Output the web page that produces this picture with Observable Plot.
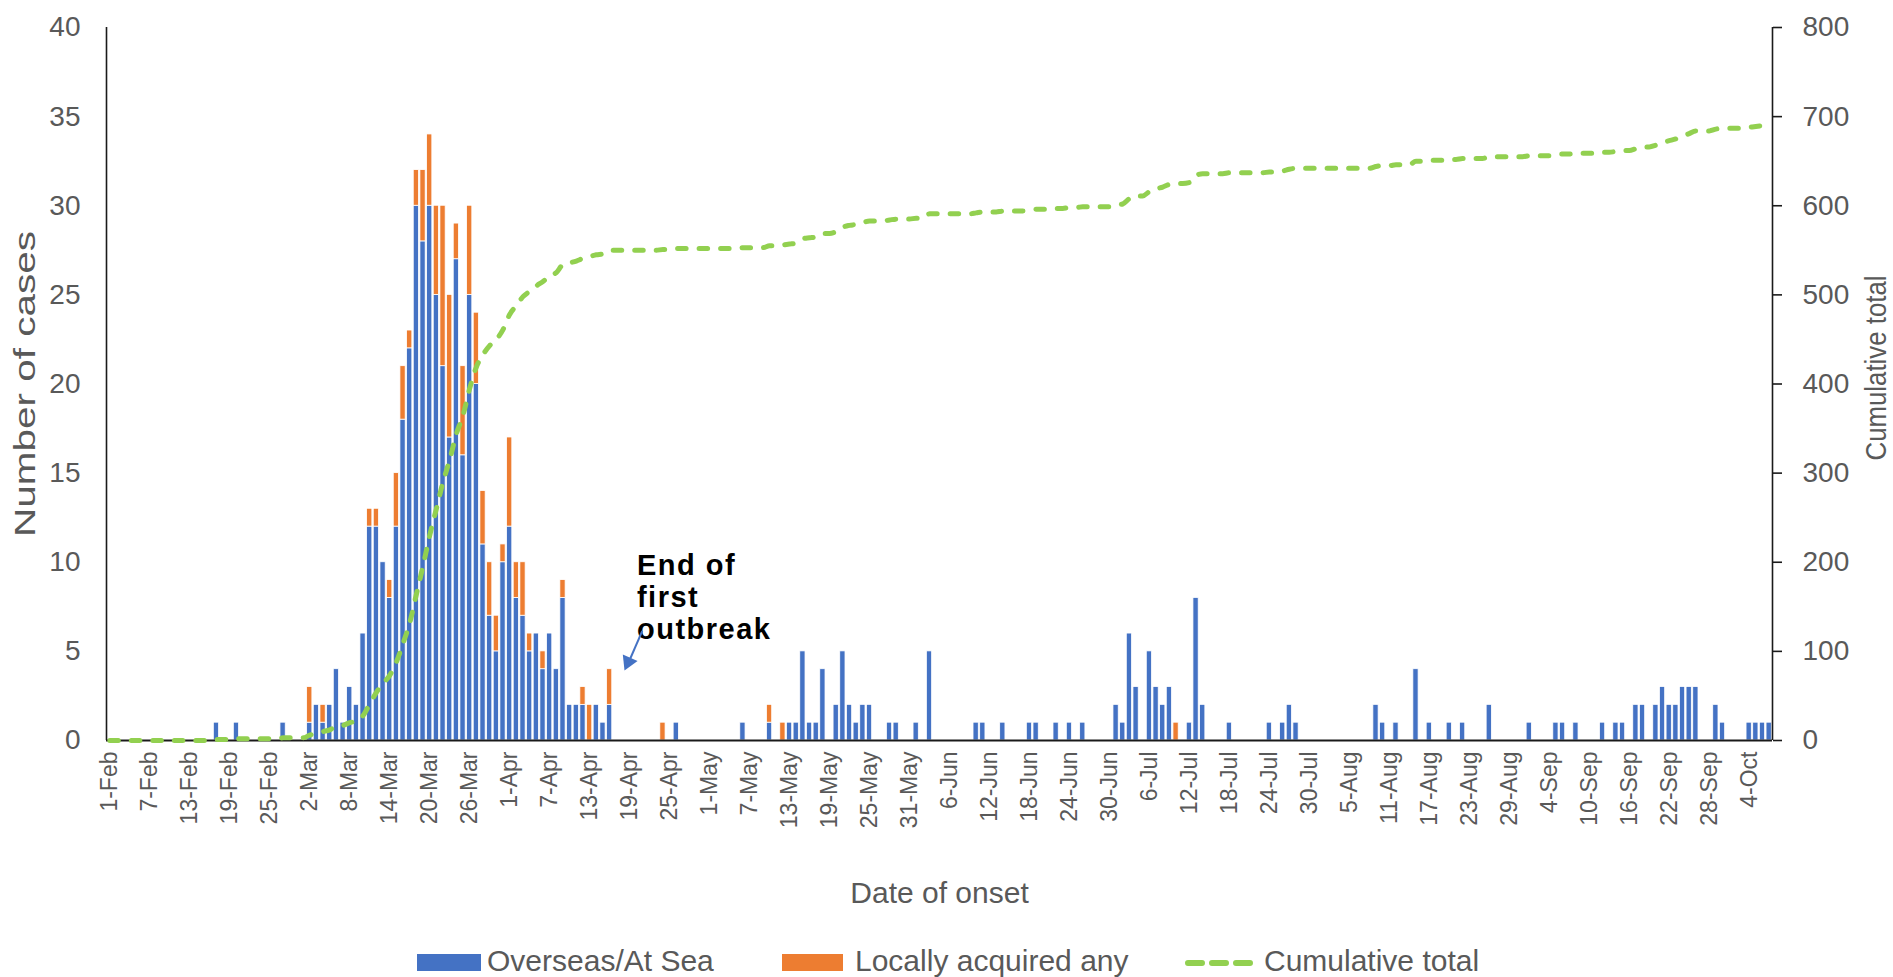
<!DOCTYPE html>
<html><head><meta charset="utf-8">
<script src="https://cdn.jsdelivr.net/npm/d3@7"></script>
<script src="https://cdn.jsdelivr.net/npm/@observablehq/plot@0.6"></script>
<style>
body{margin:0;background:#fff;}
#chart{width:1893px;height:977px;position:relative;font-family:"Liberation Sans",Arial,sans-serif;background:#fff;}
#legend{position:relative;width:1893px;height:37px;font-size:30px;color:#595959;}
#legend .sw{position:absolute;top:14px;height:17px;}
#legend .tx{position:absolute;top:3px;line-height:36px;white-space:nowrap;}
</style></head><body><div id="chart"></div>
<script>
// Daily cases by date of onset, 1-Feb to 7-Oct (2020)
const overseasFeb = [0,0,0,0,0,0,0,0,0,0, 0,0,0,0,0,0,1,0,0,1, 0,0,0,0,0,0,1,0,0];
const overseasMar = [0,1,2,1,2,4,1,3,2,6, 12,12,10,8,12,18,22,30,28,30, 25,21,17,27,16,25,20,11,7,5,10];
const overseasApr = [12,8,7,5,6,4,6,4,8,2, 2,2,0,2,1,2,0,0,0,0, 0,0,0,0,0,1,0,0,0,0];
const overseasMay = [0,0,0,0,0,1,0,0,0,1, 0,0,1,1,5,1,1,4,0,2, 5,2,1,2,2,0,0,1,1,0,0];
const overseasJun = [1,0,5,0,0,0,0,0,0,1, 1,0,0,1,0,0,0,1,1,0, 0,1,0,1,0,1,0,0,0,0];
const overseasJul = [2,1,6,3,0,5,3,2,3,0, 0,1,8,2,0,0,0,1,0,0, 0,0,0,1,0,1,2,1,0,0,0];
const overseasAug = [0,0,0,0,0,0,0,0,2,1, 0,1,0,0,4,0,1,0,0,1, 0,1,0,0,0,2,0,0,0,0,0];
const overseasSep = [1,0,0,0,1,1,0,1,0,0, 0,1,0,1,1,0,2,2,0,2, 3,2,2,3,3,3,0,0,2,1];
const overseasOct = [0,0,0,1,1,1,1];

const localFeb = [0,0,0,0,0,0,0,0,0,0, 0,0,0,0,0,0,0,0,0,0, 0,0,0,0,0,0,0,0,0];
const localMar = [0,2,0,1,0,0,0,0,0,0, 1,1,0,1,3,3,1,2,4,4, 5,9,8,2,5,5,4,3,3,2,1];
const localApr = [5,2,3,1,0,1,0,0,1,0, 0,1,2,0,0,2,0,0,0,0, 0,0,0,1,0,0,0,0,0,0];
const localMay = [0,0,0,0,0,0,0,0,0,1, 0,1,0,0,0,0,0,0,0,0, 0,0,0,0,0,0,0,0,0,0,0];
const localJun = [0,0,0,0,0,0,0,0,0,0, 0,0,0,0,0,0,0,0,0,0, 0,0,0,0,0,0,0,0,0,0];
const localJul = [0,0,0,0,0,0,0,0,0,1, 0,0,0,0,0,0,0,0,0,0, 0,0,0,0,0,0,0,0,0,0,0];
const localAug = [0,0,0,0,0,0,0,0,0,0, 0,0,0,0,0,0,0,0,0,0, 0,0,0,0,0,0,0,0,0,0,0];
const localSep = [0,0,0,0,0,0,0,0,0,0, 0,0,0,0,0,0,0,0,0,0, 0,0,0,0,0,0,0,0,0,0];
const localOct = [0,0,0,0,0,0,0];

const tickLabels = ["1-Feb","7-Feb","13-Feb","19-Feb","25-Feb","2-Mar","8-Mar","14-Mar","20-Mar","26-Mar",
  "1-Apr","7-Apr","13-Apr","19-Apr","25-Apr","1-May","7-May","13-May","19-May","25-May","31-May",
  "6-Jun","12-Jun","18-Jun","24-Jun","30-Jun","6-Jul","12-Jul","18-Jul","24-Jul","30-Jul",
  "5-Aug","11-Aug","17-Aug","23-Aug","29-Aug","4-Sep","10-Sep","16-Sep","22-Sep","28-Sep","4-Oct"];
const tickStep = 6; // days between labels
const leftTicks = [0,5,10,15,20,25,30,35,40];
const rightTicks = [0,100,200,300,400,500,600,700,800];
const seriesNames = ["Overseas/At Sea","Locally acquired any","Cumulative total"];
const seriesColors = ["#4472C4","#ED7D31","#92D050"];
const axisTitles = {x: "Date of onset", yLeft: "Number of cases", yRight: "Cumulative total"};
const note = [{text: "End of\nfirst\noutbreak", day: 79.6, cases: 10.55}];
const noteArrow = [{day1: 80.4, cases1: 6.15, day2: 78.6, cases2: 4.6, headDay: 78.3, headCases: 4.4}];

const overseas = [].concat(overseasFeb, overseasMar, overseasApr, overseasMay, overseasJun, overseasJul, overseasAug, overseasSep, overseasOct);
const local = [].concat(localFeb, localMar, localApr, localMay, localJun, localJul, localAug, localSep, localOct);
const nDays = overseas.length;
const cum = d3.cumsum(overseas.map((o, i) => o + local[i]));
const rows = overseas.map((o, i) => ({day: i, overseas: o, local: local[i], cum: cum[i]}));
const k = rightTicks[rightTicks.length - 1] / leftTicks[leftTicks.length - 1];

const gray = "#595959";
const svg = Plot.plot({
  width: 1893, height: 940,
  marginLeft: 106, marginRight: 121, marginTop: 27, marginBottom: 200,
  style: {fontFamily: "'Liberation Sans', Arial, sans-serif", color: gray, background: "white", overflow: "visible"},
  x: {type: "linear", domain: [0, nDays], axis: null},
  y: {domain: [leftTicks[0], leftTicks[leftTicks.length - 1]]},
  marks: [
    Plot.rect(rows.filter(d => d.overseas > 0), {x1: "day", x2: d => d.day + 1, y1: () => 0, y2: "overseas",
      fill: seriesColors[0], stroke: "white", strokeWidth: 0.8, insetLeft: 0.7, insetRight: 0.7}),
    Plot.rect(rows.filter(d => d.local > 0), {x1: "day", x2: d => d.day + 1, y1: "overseas", y2: d => d.overseas + d.local,
      fill: seriesColors[1], stroke: "white", strokeWidth: 0.8, insetLeft: 0.7, insetRight: 0.7}),
    Plot.ruleX([0, nDays], {stroke: "#1a1a1a", strokeWidth: 1.6}),
    Plot.ruleY([0], {stroke: "#1a1a1a", strokeWidth: 2}),
    Plot.line(rows, {x: d => d.day + 0.5, y: d => d.cum / k, stroke: seriesColors[2], strokeWidth: 5,
      strokeDasharray: "8.5,13", strokeLinecap: "round", curve: "monotone-x"}),
    Plot.axisY({anchor: "left", ticks: leftTicks, tickSize: 0, tickPadding: 26, fontSize: 28, label: null}),
    Plot.axisY({anchor: "right", ticks: rightTicks.map(v => v / k), tickFormat: d => String(Math.round(d * k)),
      tickSize: 9, tickPadding: 21, fontSize: 28, label: null, stroke: "#1a1a1a", strokeWidth: 1.6}),
    Plot.text(tickLabels, {x: (d, i) => i * tickStep + 0.5, frameAnchor: "bottom", rotate: -90,
      textAnchor: "end", lineAnchor: "middle", dy: 11, fontSize: 23, fill: gray}),
    Plot.text([axisTitles.x], {frameAnchor: "bottom", dy: 153, fontSize: 30, fill: gray, textAnchor: "middle", lineAnchor: "middle"}),
    Plot.text([axisTitles.yLeft], {frameAnchor: "left", dx: -81, dy: 0, rotate: -90, fontSize: 30, fill: gray, textAnchor: "middle", lineAnchor: "middle"}),
    Plot.text([axisTitles.yRight], {frameAnchor: "right", dx: 104, dy: -16, rotate: -90, fontSize: 30, fill: gray, textAnchor: "middle", lineAnchor: "middle"}),
    Plot.text(note, {x: "day", y: "cases", text: "text", textAnchor: "start", lineAnchor: "top", lineHeight: 1.1,
      fontSize: 29, fontWeight: "bold", fill: "black"}),
    Plot.link(noteArrow, {x1: "day1", y1: "cases1", x2: "day2", y2: "cases2", stroke: seriesColors[0], strokeWidth: 2}),
    Plot.dot(noteArrow, {x: "headDay", y: "headCases", symbol: "triangle", r: 6, fill: seriesColors[0], stroke: "none", rotate: 204})
  ]
});

// Stretch the axis titles and annotation along their reading direction, as in the reference
const stretch = new Map([[axisTitles.yLeft, 1.35], [axisTitles.yRight, 0.86]]);
d3.select(svg).selectAll("text").each(function() {
  const s = stretch.get(this.textContent);
  const tr = this.getAttribute("transform") || "";
  if (s && tr.includes("rotate")) this.setAttribute("transform", tr + ` scale(${s},1)`);
  if (this.textContent.startsWith("End of")) this.style.letterSpacing = "1.5px";
});

const chart = document.getElementById("chart");
chart.appendChild(svg);

// Legend below the SVG
const legend = document.createElement("div");
legend.id = "legend";
const legendLayout = [
  {sw: 417, sww: 64, tx: 487},
  {sw: 782, sww: 61, tx: 855},
  {sw: 1186, sww: 67, tx: 1264}
];
seriesNames.forEach((name, i) => {
  const L = legendLayout[i];
  if (i < 2) {
    const s = document.createElement("div");
    s.className = "sw";
    s.style.left = L.sw + "px"; s.style.width = L.sww + "px"; s.style.background = seriesColors[i];
    legend.appendChild(s);
  } else {
    const ns = "http://www.w3.org/2000/svg";
    const s = document.createElementNS(ns, "svg");
    s.setAttribute("width", L.sww + 6); s.setAttribute("height", 12);
    s.style.position = "absolute"; s.style.left = (L.sw - 3) + "px"; s.style.top = "17px";
    const ln = document.createElementNS(ns, "line");
    ln.setAttribute("x1", 5); ln.setAttribute("x2", L.sww + 1); ln.setAttribute("y1", 6); ln.setAttribute("y2", 6);
    ln.setAttribute("stroke", seriesColors[2]); ln.setAttribute("stroke-width", 6);
    ln.setAttribute("stroke-linecap", "round"); ln.setAttribute("stroke-dasharray", "14,10");
    s.appendChild(ln);
    legend.appendChild(s);
  }
  const t = document.createElement("div");
  t.className = "tx"; t.style.left = L.tx + "px"; t.textContent = name;
  legend.appendChild(t);
});
chart.appendChild(legend);
</script></body></html>
